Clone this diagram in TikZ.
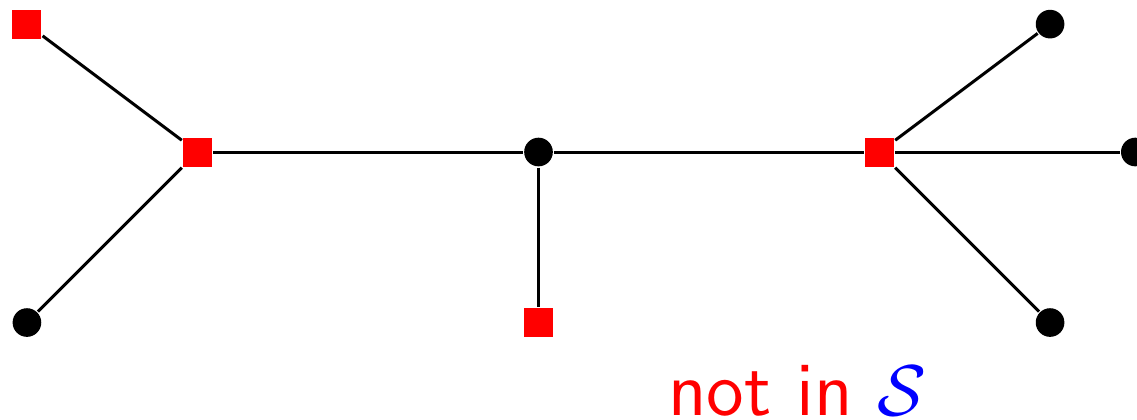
\documentclass[tikz,border=0pt]{standalone}
\usepackage{amssymb}
\begin{document}
\begin{tikzpicture}[x=1cm,y=1cm,
  sq/.style={rectangle,fill=red,draw=none,minimum size=0.17cm,inner sep=0pt},
  dot/.style={circle,fill=black,draw=none,minimum size=0.168cm,inner sep=0pt},
  edge/.style={draw=black,line width=0.5pt}]
\useasboundingbox (-0.158,-1.566) rectangle (6.510,0.8915);
\node[sq] (a) at (0,0.75) {};
\node[sq] (b) at (1,0) {};
\node[dot] (c) at (0,-1) {};
\node[dot] (d) at (3,0) {};
\node[sq] (e) at (3,-1) {};
\node[sq] (f) at (5,0) {};
\node[dot] (g) at (6,0.75) {};
\node[dot] (h) at (6.5,0) {};
\node[dot] (i) at (6,-1) {};
\draw[edge] (b) -- (a);
\draw[edge] (b) -- (c);
\draw[edge] (b) -- (d);
\draw[edge] (d) -- (e);
\draw[edge] (d) -- (f);
\draw[edge] (f) -- (g);
\draw[edge] (f) -- (h);
\draw[edge] (f) -- (i);
\node[anchor=base west,inner sep=0pt,font=\fontsize{12.8}{15}\selectfont\sffamily,text=red] (t) at (3.755,-1.545) {not in \textcolor{blue}{$\mathcal{S}$}};
\end{tikzpicture}
\end{document}
